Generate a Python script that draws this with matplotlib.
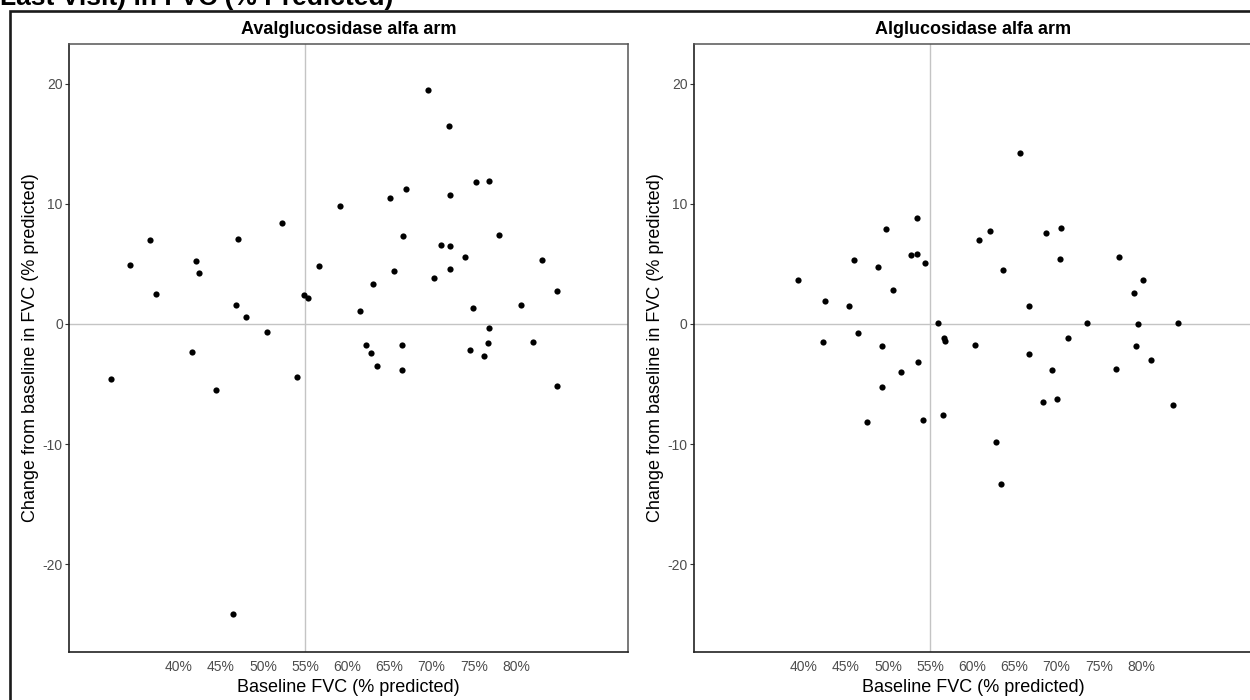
import matplotlib
matplotlib.use("Agg")
import matplotlib.pyplot as plt
from matplotlib.patches import Rectangle

plt.rcParams['font.family'] = ['Liberation Sans', 'DejaVu Sans']
plt.rcParams['axes.unicode_minus'] = False

# Baseline FVC (% predicted) and change from baseline, avalglucosidase alfa arm
aval_baseline = [32.0, 34.2, 36.6, 37.3, 41.6, 42.1, 42.4, 44.4, 46.4, 46.8,
                 47.0, 48.0, 50.5, 52.3, 54.05, 54.9, 55.3, 56.7, 59.1, 61.5,
                 62.2, 62.8, 63.0, 63.5, 65.1, 65.5, 66.5, 66.5, 66.6, 67.0,
                 69.6, 70.3, 71.1, 72.1, 72.2, 72.2, 72.2, 74.0, 74.55, 74.9,
                 75.3, 76.2, 76.7, 76.85, 76.85, 78.0, 80.65, 82.0, 83.1, 84.9,
                 84.9]
aval_change = [-4.6, 4.9, 7.0, 2.5, -2.3, 5.2, 4.25, -5.5, -24.1, 1.6,
               7.1, 0.55, -0.7, 8.4, -4.4, 2.4, 2.15, 4.8, 9.8, 1.1,
               -1.75, -2.45, 3.3, -3.5, 10.5, 4.4, -1.75, -3.8, 7.3, 11.2,
               19.5, 3.8, 6.6, 16.5, 10.75, 6.45, 4.6, 5.6, -2.2, 1.36,
               11.8, -2.7, -1.6, 11.9, -0.36, 7.4, 1.6, -1.5, 5.3, 2.75,
               -5.2]

# Baseline FVC (% predicted) and change from baseline, alglucosidase alfa arm
alg_baseline = [39.3, 42.3, 42.5, 45.4, 46.0, 46.4, 47.5, 48.8, 49.3, 49.3,
                49.8, 50.6, 51.6, 52.7, 53.4, 53.5, 53.6, 54.2, 54.4, 55.9,
                56.7, 56.8, 56.5, 60.3, 60.8, 62.1, 62.8, 63.4, 63.6, 65.7,
                66.7, 66.7, 68.4, 68.7, 69.5, 70.0, 70.35, 70.5, 71.3, 73.6,
                77.05, 77.4, 79.2, 79.4, 79.7, 80.3, 81.15, 83.8, 84.4]
alg_change = [3.67, -1.5, 1.95, 1.47, 5.3, -0.72, -8.14, 4.7, -1.86, -5.22,
              7.9, 2.86, -3.97, 5.75, 5.86, 8.8, -3.14, -8.0, 5.05, 0.1,
              -1.2, -1.4, -7.56, -1.78, 7.0, 7.7, -9.86, -13.3, 4.5, 14.2,
              1.47, -2.47, -6.5, 7.6, -3.83, -6.28, 5.4, 7.95, -1.2, 0.1,
              -3.72, 5.6, 2.6, -1.86, -0.03, 3.67, -3.03, -6.75, 0.1]

x_ticks = [40, 45, 50, 55, 60, 65, 70, 75, 80]
x_tick_labels = ["40%", "45%", "50%", "55%", "60%", "65%", "70%", "75%", "80%"]
y_ticks = [-20, -10, 0, 10, 20]
panel_titles = ["Avalglucosidase alfa arm", "Alglucosidase alfa arm"]
x_label = "Baseline FVC (% predicted)"
y_label = "Change from baseline in FVC (% predicted)"
header = "Last Visit) in FVC (% Predicted)"
x_ref = 55
y_ref = 0

W, H = 1250, 700
fig = plt.figure(figsize=(W / 100, H / 100), dpi=100)
fig.patch.set_facecolor("white")


def fx(px):
    return px / W


def fy(py):
    return 1 - py / H


# Outer frame and the header line running off the top edge
fig.patches.append(Rectangle((fx(10), -0.2), 1.5, fy(11) + 0.2,
                             transform=fig.transFigure, fill=False,
                             edgecolor="#1a1a1a", linewidth=1.9, zorder=0))
fig.text(0.0, fy(5), header, fontsize=19, fontweight="bold",
         ha="left", va="baseline", color="black")

panel_left = [69, 694]
panel_width = 559
top, bottom = 44, 652
datasets = [(aval_baseline, aval_change), (alg_baseline, alg_change)]

for left, title, (xs, ys) in zip(panel_left, panel_titles, datasets):
    ax = fig.add_axes([fx(left), fy(bottom), panel_width / W, (bottom - top) / H])
    ax.set_xlim(27.0, 93.3)
    ax.set_ylim(-27.3, 23.3)
    ax.axvline(x_ref, color="#c4c4c4", linewidth=1.0, zorder=1)
    ax.axhline(y_ref, color="#c4c4c4", linewidth=1.0, zorder=1)
    ax.scatter(xs, ys, s=20, color="black", linewidths=0, zorder=3)

    ax.set_xticks(x_ticks)
    ax.set_xticklabels(x_tick_labels)
    ax.set_yticks(y_ticks)
    ax.tick_params(axis="x", length=0, pad=6, labelsize=10, labelcolor="#4d4d4d")
    ax.tick_params(axis="y", length=3, width=0.8, color="#333333", pad=1.5,
                   labelsize=10, labelcolor="#4d4d4d")

    for side in ("left", "bottom"):
        ax.spines[side].set_color("#222222")
        ax.spines[side].set_linewidth(1.2)
    for side in ("top", "right"):
        ax.spines[side].set_color("#555555")
        ax.spines[side].set_linewidth(1.1)

    ax.set_xlabel(x_label, fontsize=13, va="center")
    ax.xaxis.set_label_coords(0.5, (bottom - 688) / (bottom - top))
    ax.set_ylabel(y_label, fontsize=13, va="center")
    ax.yaxis.set_label_coords((31 - 69) / panel_width, 0.5)

    fig.text(fx(left + panel_width / 2), fy(29), title, fontsize=13,
             fontweight="bold", ha="center", va="center")

fig.savefig("out.png", dpi=100)
